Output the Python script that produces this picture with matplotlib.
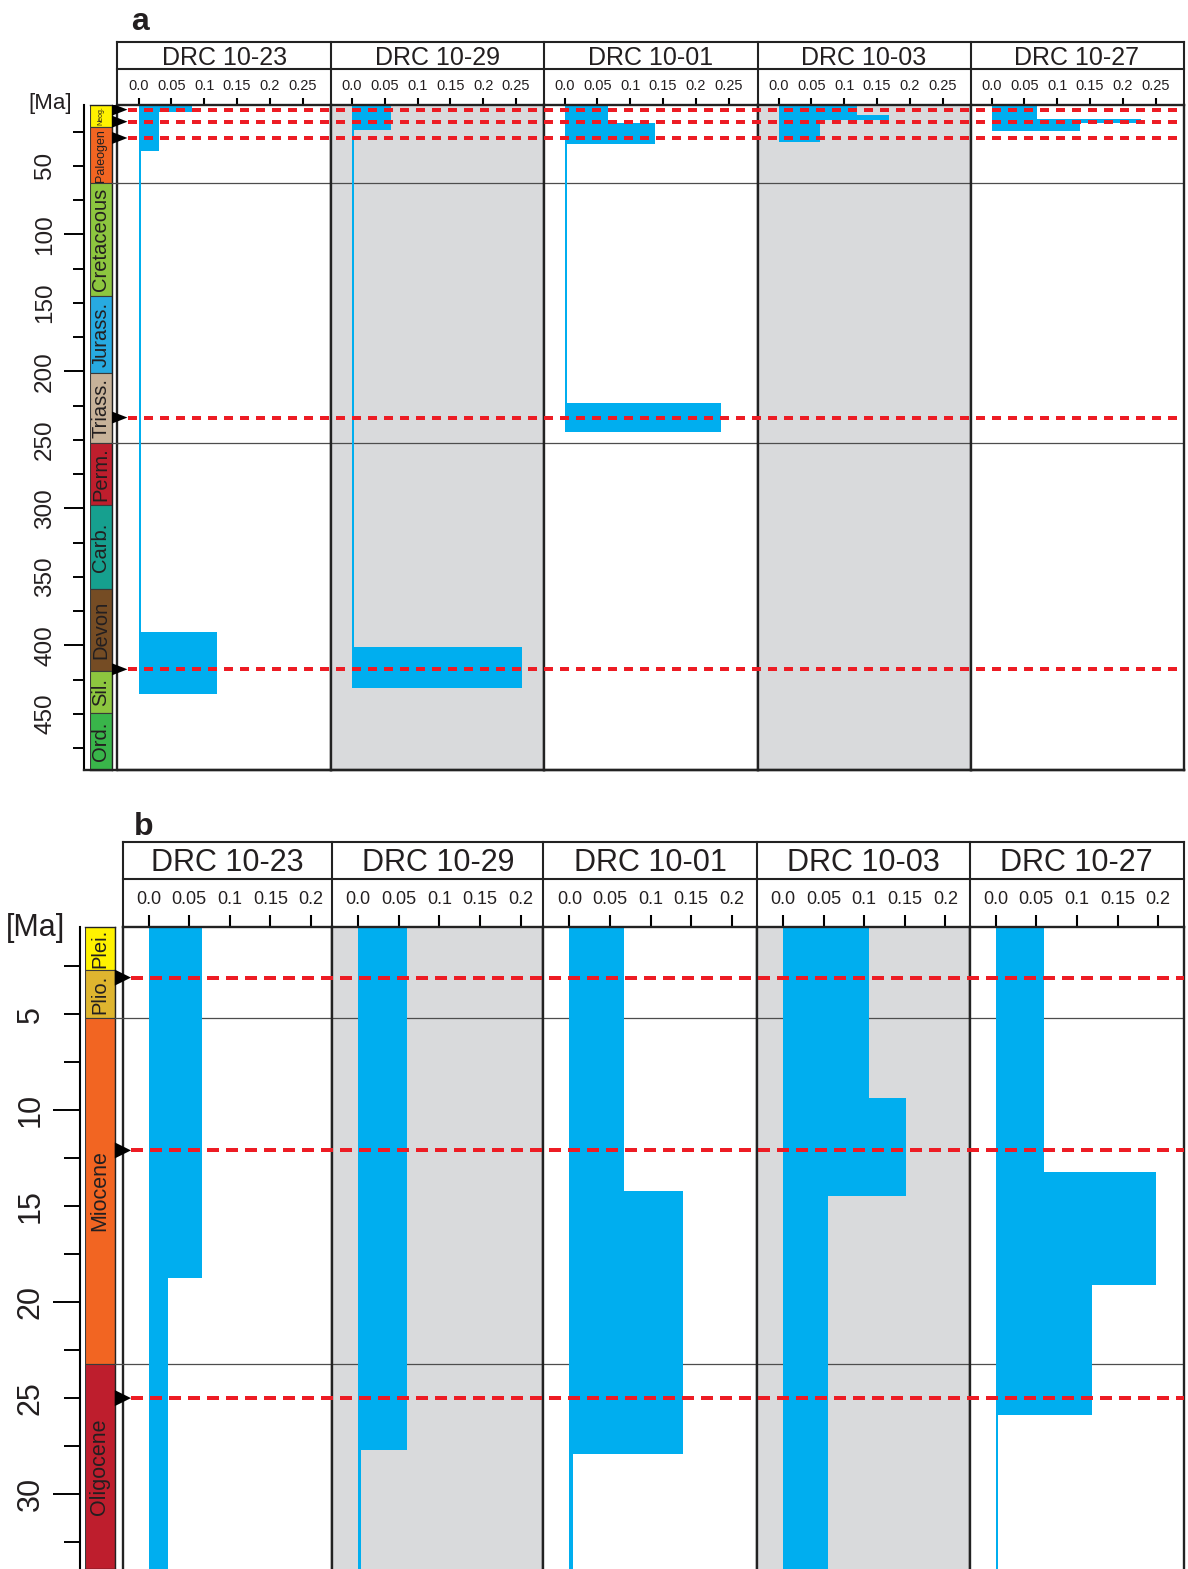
"""Age-distribution columns for five DRC samples (panel a: full Phanerozoic, panel b: Neogene zoom)."""

import matplotlib.pyplot as plt
from matplotlib.lines import Line2D
from matplotlib.patches import Polygon
from matplotlib.ticker import MultipleLocator, FuncFormatter

plt.rcParams['font.family'] = ['Liberation Sans', 'DejaVu Sans']
plt.rcParams['lines.scale_dashes'] = False

W, H = 1188, 1569
PT = 0.72  # px -> pt at dpi 100

BLUE = '#00AEEF'
RED = '#ED1C24'
GREY = '#D9DADC'
TEXT = '#231F20'

SAMPLES = ['DRC 10-23', 'DRC 10-29', 'DRC 10-01', 'DRC 10-03', 'DRC 10-27']
SHADED = [False, True, False, True, False]

# ---------- panel a: bin edges [Ma] and values per sample ----------
A_EDGES_1023 = [5.3, 10.6, 38.9, 390.5, 435.5]
A_VALS_1023 = [0.081, 0.031, 0.0045, 0.119]
A_EDGES_1029 = [5.3, 24.0, 401.5, 431.0]
A_VALS_1029 = [0.060, 0.0035, 0.259]
A_EDGES_1001 = [5.3, 18.6, 33.8, 223.3, 244.5]
A_VALS_1001 = [0.066, 0.138, 0.0045, 0.239]
A_EDGES_1003 = [5.3, 12.6, 16.2, 32.8]
A_VALS_1003 = [0.120, 0.169, 0.063]
A_EDGES_1027 = [5.3, 15.7, 18.4, 24.5]
A_VALS_1027 = [0.070, 0.228, 0.135]

A_TICKS = [0.0, 0.05, 0.1, 0.15, 0.2, 0.25]
A_TICK_LABELS = ['0.0', '0.05', '0.1', '0.15', '0.2', '0.25']
A_EVENTS = [8.9, 17.7, 29.6, 233.7, 417.5]
A_BOUNDS = [62.7, 252.0]

A_PERIODS = ['Neog.', 'Paleogen', 'Cretaceous', 'Jurass.', 'Triass.',
             'Perm.', 'Carb.', 'Devon', 'Sil.', 'Ord.']
A_PERIOD_EDGES = [0, 21.8, 62.7, 144.9, 201.1, 252.0, 297.9, 358.8, 418.5, 449.7, 495]
A_PERIOD_COLORS = ['#FFF200', '#F26522', '#8DC63F', '#27AAE1', '#C7B299',
                   '#BE1E2D', '#16A08F', '#754C24', '#8DC63F', '#39B54A']

# ---------- panel b ----------
B_EDGES_1023 = [0.45, 18.76, 34.0]
B_VALS_1023 = [0.066, 0.0245]
B_EDGES_1029 = [0.45, 27.7, 34.0]
B_VALS_1029 = [0.060, 0.004]
B_EDGES_1001 = [0.45, 14.2, 27.9, 34.0]
B_VALS_1001 = [0.0676, 0.1405, 0.005]
B_EDGES_1003 = [0.45, 9.39, 14.5, 34.0]
B_VALS_1003 = [0.106, 0.151, 0.056]
B_EDGES_1027 = [0.45, 13.2, 19.1, 25.9, 34.0]
B_VALS_1027 = [0.060, 0.198, 0.118, 0.003]

B_TICKS = [0.0, 0.05, 0.1, 0.15, 0.2]
B_TICK_LABELS = ['0.0', '0.05', '0.1', '0.15', '0.2']
B_EVENTS = [3.1, 12.1, 25.0]
B_BOUNDS = [5.19, 23.2]

B_PERIODS = ['Plei.', 'Plio.', 'Miocene', 'Oligocene']
B_PERIOD_EDGES = [0, 2.73, 5.19, 23.2, 40]
B_PERIOD_COLORS = ['#FFF200', '#DFB52F', '#F26522', '#BE1E2D']

# layout (pixels, from top-left)
LAYOUT_A = dict(
    letter='a', letter_xy=(131, 29.5),
    head_top=41.7, head_mid=69.0, top=104.7, bottom=770.0, title_base=65.0,
    cols=[117.5, 331.0, 543.5, 757.5, 970.5, 1183.5],
    ts_x=(89.5, 112.0), axis_x=84.0, draw_bottom=True,
    ylim=(491.0, 5.3), x_off=21, px_per_unit=656,
    title_size=18, tick_size=10.5, xtick_len=7, xtick_pad=5,
    major=100, minor=25, label_every=50, ytick_long=20, ytick_short=11,
    ylabel_right=56, ytick_size=17.5,
    period_sizes=[5, 9, 14.5, 14.5, 14.5, 14.5, 14.5, 14.5, 14.5, 14.5],
    ma_xy=(50, 103), ma_size=16,
    tri=(112.0, 127.5, 12.0), dash_start=128.0, dash=(9.0, 7.0),
)
LAYOUT_B = dict(
    letter='b', letter_xy=(134, 835),
    head_top=841.7, head_mid=879.0, top=926.7, bottom=1569.0, title_base=871.5,
    cols=[122.5, 332.2, 543.4, 757.0, 969.7, 1183.6],
    ts_x=(85.0, 114.8), axis_x=80.4, draw_bottom=False,
    ylim=(33.9, 0.45), x_off=26, px_per_unit=812,
    title_size=22, tick_size=13, xtick_len=11.7, xtick_pad=6.5,
    major=10, minor=2.5, label_every=5, ytick_long=27, ytick_short=16,
    ylabel_right=46, ytick_size=22,
    period_sizes=[14.5, 14.5, 15.5, 15.5],
    ma_xy=(35, 928), ma_size=22,
    tri=(114.8, 131.0, 16.0), dash_start=131.0, dash=(12.0, 7.0),
)


def px_axes(fig, x0, y0, x1, y1, **kw):
    return fig.add_axes([x0 / W, 1 - y1 / H, (x1 - x0) / W, (y1 - y0) / H], **kw)


def fig_line(fig, xs, ys, lw=1.5, color='#222222'):
    fig.add_artist(Line2D([x / W for x in xs], [1 - y / H for y in ys],
                          transform=fig.transFigure, lw=lw, color=color))


def draw_panel(fig, lay, edges_list, vals_list, ticks, tick_labels, events, bounds,
               period_names, period_edges, period_colors):
    top, bottom = lay['top'], lay['bottom']
    cols = lay['cols']
    y_lo, y_hi = lay['ylim']
    ma_to_px = (bottom - top) / (y_lo - y_hi)

    # ---------- sample columns ----------
    for i, name in enumerate(SAMPLES):
        x0, x1 = cols[i], cols[i + 1]
        ax = px_axes(fig, x0, top, x1, bottom)
        left = -lay['x_off'] / lay['px_per_unit']
        ax.set_xlim(left, left + (x1 - x0) / lay['px_per_unit'])
        ax.set_ylim(y_lo, y_hi)
        ax.set_facecolor(GREY if SHADED[i] else 'white')
        for b in bounds:
            ax.axhline(b, color='#4d4d4d', lw=0.9, zorder=1)

        edges = edges_list[i]
        heights = [b - t for t, b in zip(edges[:-1], edges[1:])]
        ax.barh(edges[:-1], vals_list[i], height=heights, left=0, align='edge',
                color=BLUE, lw=0, zorder=2)

        ax.set_xticks(ticks, tick_labels)
        ax.set_yticks([])
        ax.tick_params(axis='x', top=True, bottom=False, labeltop=True, labelbottom=False,
                       direction='out', length=lay['xtick_len'] * PT, width=1.5,
                       pad=lay['xtick_pad'] * PT, labelsize=lay['tick_size'],
                       color='black', labelcolor=TEXT)
        for s in ax.spines.values():
            s.set_linewidth(1.7)
            s.set_color('#222222')
        if not lay['draw_bottom']:
            ax.spines['bottom'].set_visible(False)

        fig.text((x0 + x1) / 2 / W, 1 - lay['title_base'] / H, name, ha='center',
                 va='baseline', fontsize=lay['title_size'], color=TEXT)
        fig_line(fig, [x0, x0], [lay['head_top'], top])
    fig_line(fig, [cols[-1], cols[-1]], [lay['head_top'], top])
    fig_line(fig, [cols[0], cols[-1]], [lay['head_top'], lay['head_top']])
    fig_line(fig, [cols[0], cols[-1]], [lay['head_mid'], lay['head_mid']])

    # ---------- time scale column + age axis ----------
    ts = px_axes(fig, lay['ts_x'][0], top, lay['ts_x'][1], bottom)
    ts.set_xlim(0, 1)
    ts.set_ylim(y_lo, y_hi)
    p_heights = [b - t for t, b in zip(period_edges[:-1], period_edges[1:])]
    ts.barh(period_edges[:-1], 1, height=p_heights, left=0, align='edge',
            color=period_colors, edgecolor='#3a3a3a', lw=0.8)
    for name, t, b, size in zip(period_names, period_edges[:-1], period_edges[1:],
                                lay['period_sizes']):
        mid = (max(t, y_hi) + min(b, y_lo)) / 2
        ts.text(0.5, mid, name, rotation=90, ha='center', va='center',
                fontsize=size, color=TEXT)
    ts.set_xticks([])
    for side in ('top', 'right', 'bottom'):
        ts.spines[side].set_linewidth(1.0)
        ts.spines[side].set_color('#222222')
    ts.spines['left'].set_position(('outward', (lay['ts_x'][0] - lay['axis_x']) * PT))
    ts.spines['left'].set_linewidth(1.5)

    every = lay['label_every']
    ts.yaxis.set_major_locator(MultipleLocator(lay['major']))
    ts.yaxis.set_minor_locator(MultipleLocator(lay['minor']))
    ts.yaxis.set_major_formatter(FuncFormatter(lambda v, p: f'{v:g}'))
    ts.yaxis.set_minor_formatter(FuncFormatter(
        lambda v, p: f'{v:g}' if abs(v / every - round(v / every)) < 1e-6 else ''))
    pad_major = lay['axis_x'] - lay['ytick_long'] - lay['ylabel_right']
    pad_minor = lay['axis_x'] - lay['ytick_short'] - lay['ylabel_right']
    ts.tick_params(axis='y', which='major', length=lay['ytick_long'] * PT, width=1.4,
                   pad=pad_major * PT, labelsize=lay['ytick_size'], labelrotation=90,
                   labelcolor=TEXT)
    ts.tick_params(axis='y', which='minor', length=lay['ytick_short'] * PT, width=1.4,
                   pad=pad_minor * PT, labelsize=lay['ytick_size'], labelrotation=90,
                   labelcolor=TEXT)
    for lbl in ts.get_yticklabels(which='both'):
        lbl.set_va('center')

    if lay['draw_bottom']:
        fig_line(fig, [lay['axis_x'], cols[-1]], [bottom, bottom], lw=1.7)

    fig.text(lay['ma_xy'][0] / W, 1 - lay['ma_xy'][1] / H, '[Ma]', ha='center',
             va='center', fontsize=lay['ma_size'], color=TEXT)
    fig.text(lay['letter_xy'][0] / W, 1 - lay['letter_xy'][1] / H, lay['letter'],
             ha='left', va='baseline', fontsize=23, fontweight='bold', color=TEXT)

    # ---------- event lines and markers (overlay) ----------
    ov = fig.add_axes([0, 1 - bottom / H, 1, (bottom - top) / H], zorder=10)
    ov.set_xlim(0, W)
    ov.set_ylim(y_lo, y_hi)
    ov.axis('off')
    tri_x0, tri_x1, tri_h = lay['tri']
    half = tri_h / 2 / ma_to_px
    for b in bounds:
        ov.plot([lay['ts_x'][1], cols[0]], [b, b], color='#4d4d4d', lw=0.9)
    for age in events:
        ov.plot([lay['dash_start'], cols[-1]], [age, age], color=RED, lw=4 * PT,
                dashes=[lay['dash'][0] * PT, lay['dash'][1] * PT])
        ov.add_patch(Polygon([[tri_x0, age - half], [tri_x0, age + half], [tri_x1, age]],
                             closed=True, facecolor='black', lw=0))


def main():
    fig = plt.figure(figsize=(W / 100, H / 100), dpi=100)

    draw_panel(fig, LAYOUT_A,
               [A_EDGES_1023, A_EDGES_1029, A_EDGES_1001, A_EDGES_1003, A_EDGES_1027],
               [A_VALS_1023, A_VALS_1029, A_VALS_1001, A_VALS_1003, A_VALS_1027],
               A_TICKS, A_TICK_LABELS, A_EVENTS, A_BOUNDS,
               A_PERIODS, A_PERIOD_EDGES, A_PERIOD_COLORS)
    draw_panel(fig, LAYOUT_B,
               [B_EDGES_1023, B_EDGES_1029, B_EDGES_1001, B_EDGES_1003, B_EDGES_1027],
               [B_VALS_1023, B_VALS_1029, B_VALS_1001, B_VALS_1003, B_VALS_1027],
               B_TICKS, B_TICK_LABELS, B_EVENTS, B_BOUNDS,
               B_PERIODS, B_PERIOD_EDGES, B_PERIOD_COLORS)

    fig.savefig('out.png', dpi=100)


if __name__ == '__main__':
    main()
